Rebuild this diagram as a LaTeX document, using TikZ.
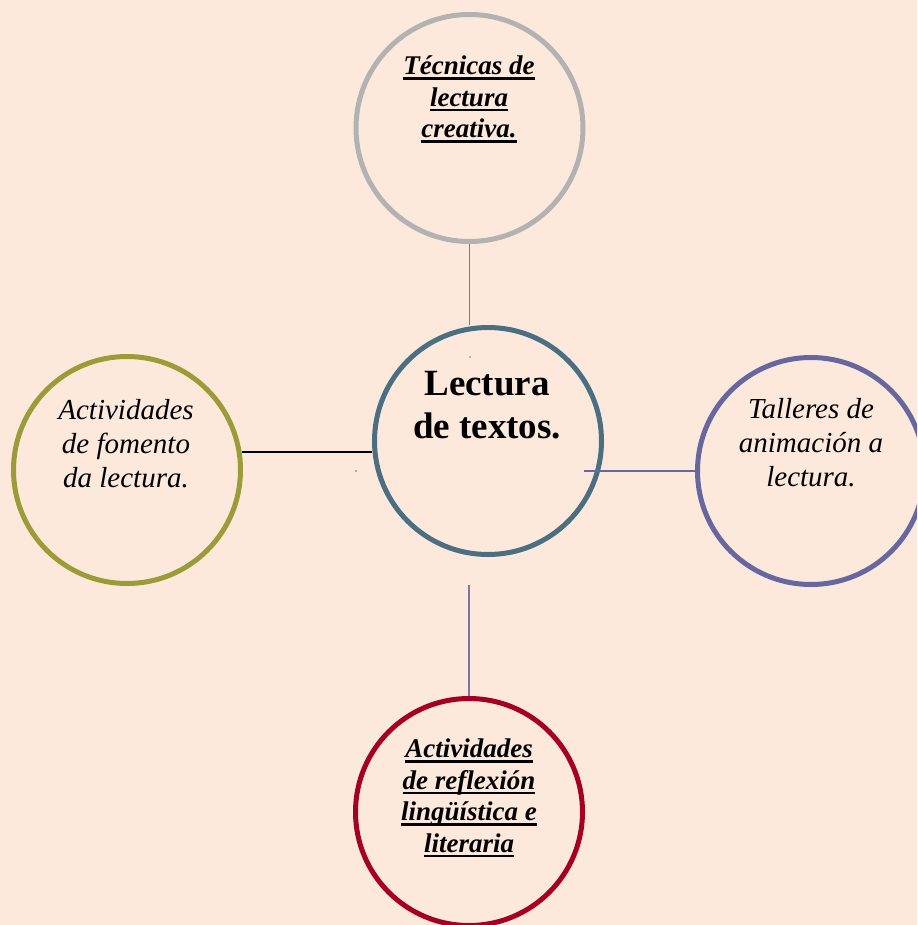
\documentclass[tikz,border=0pt]{standalone}
\usepackage{fontspec}
\setmainfont{Liberation Serif}
\newcommand\ulin[1]{\setbox0\hbox{#1}\rlap{\rule[-5pt]{\wd0}{2.6pt}}\box0}
\definecolor{bgpeach}{RGB}{252,233,220}
\definecolor{cgray}{RGB}{178,178,178}
\definecolor{cteal}{RGB}{74,110,130}
\definecolor{colive}{RGB}{155,155,56}
\definecolor{cpurple}{RGB}{103,103,160}
\definecolor{cred}{RGB}{165,0,33}
\definecolor{lblue}{RGB}{79,129,189}
\definecolor{lgraypurple}{RGB}{120,120,165}
\tikzset{
  ring/.style={circle, draw=#1, line width=5pt, minimum size=227pt, inner sep=0pt},
  boldtxt/.style={align=center, inner sep=0pt, font=\fontsize{27}{31.5}\selectfont\bfseries\itshape},
  ittxt/.style={align=center, inner sep=0pt, font=\fontsize{29}{34}\selectfont\itshape},
  maintxt/.style={align=center, inner sep=0pt, font=\fontsize{37}{42.5}\selectfont\bfseries},
  link/.style={line width=1.6pt, draw=#1}
}
\begin{document}
\begin{tikzpicture}[x=1pt, y=-1pt]
\fill[bgpeach] (0,0) rectangle (917,925);
\useasboundingbox (0,0) rectangle (917,925);
\begin{scope}
\clip (0,0) rectangle (917,925);
\node[ring=cgray] (top) at (469.5,128) {};
\node[ring=cteal] (mid) at (488,441) {};
\node[ring=colive] (left) at (127,470) {};
\node[ring=cpurple] (right) at (811,471) {};
\node[ring=cred] (bot) at (469,812) {};
\end{scope}
\node[boldtxt] (ttop) at (469,99.5) {\ulin{Técnicas de}\\\ulin{lectura}\\\ulin{creativa.}};
\node[maintxt] (tmid) at (487,405) {Lectura\\de textos.};
\node[ittxt] (tleft) at (126,443.5) {Actividades\\de fomento\\da lectura.};
\node[ittxt] (tright) at (811,442.5) {Talleres de\\animación a\\lectura.};
\node[boldtxt] (tbot) at (469,798) {\ulin{Actividades}\\\ulin{de reflexión}\\\ulin{lingüística e}\\\ulin{literaria}};
\coordinate (rstart) at (584,471);
\coordinate (bstart) at (469,585);
\draw[link=lblue] (top.south) -- (top.south |- mid.north);
\draw[line width=1.6pt, black] (left.9.4) -- (left.9.4 -| mid.west);
\draw[link=cpurple] (rstart) -- (rstart -| right.west);
\draw[link=lgraypurple] (bstart) -- (bot.north);
\fill[lblue] (470,357) circle (0.9);
\fill[cpurple] (356,471) circle (0.9);
\end{tikzpicture}
\end{document}
